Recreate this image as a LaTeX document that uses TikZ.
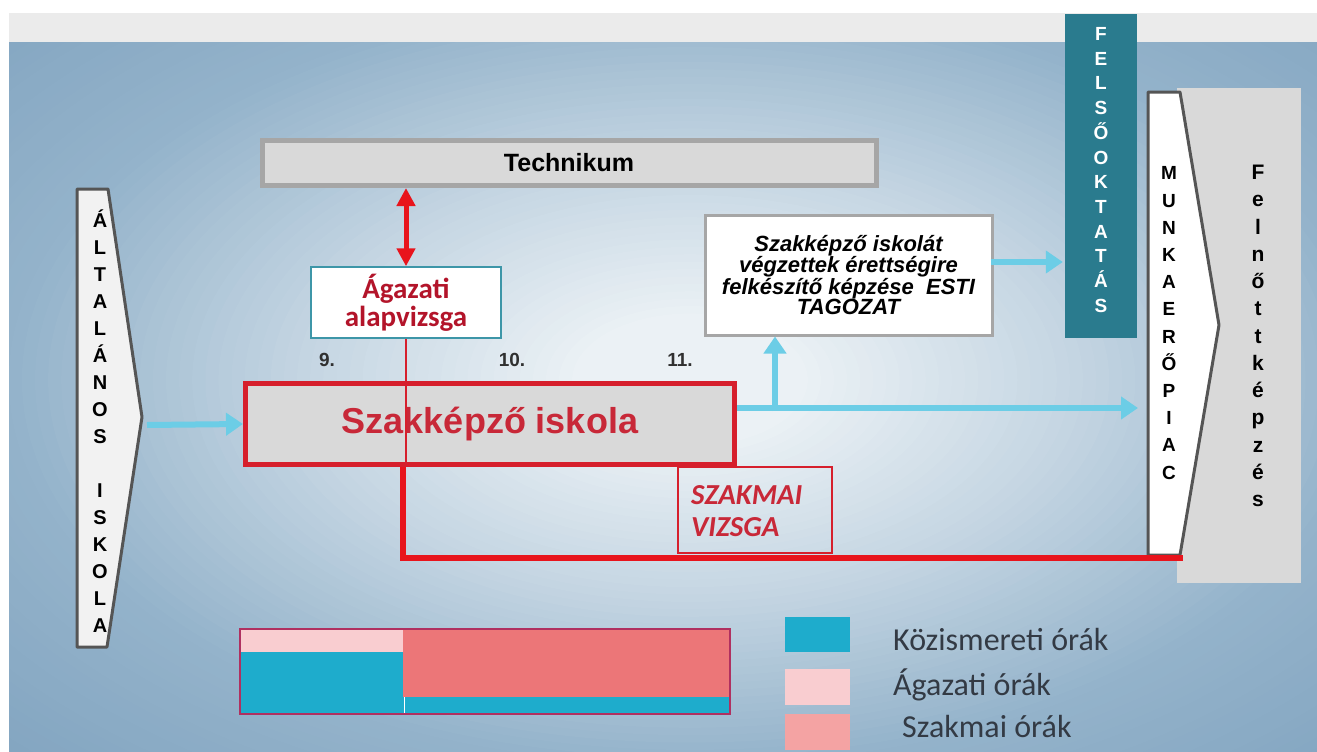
\documentclass[tikz,border=0pt]{standalone}
\usepackage{fontspec}
\newfontfamily\arial{Liberation Sans}
\newfontfamily\calibri{Carlito}
\usetikzlibrary{arrows.meta}
\definecolor{stripgray}{HTML}{EBEBEB}
\definecolor{bgC}{HTML}{EBF1F5}
\definecolor{bgM}{HTML}{C4D5E2}
\definecolor{bgE}{HTML}{94B3CB}
\definecolor{bgO}{HTML}{84A6C1}
\definecolor{boxgray}{HTML}{D9D9D9}
\definecolor{bordergray}{HTML}{A6A6A6}
\definecolor{darkborder}{HTML}{555555}
\definecolor{lblue}{HTML}{6CCDE6}
\definecolor{szred}{HTML}{D61F2C}
\definecolor{txtred}{HTML}{C82838}
\definecolor{dred}{HTML}{B3142A}
\definecolor{linered}{HTML}{E8141C}
\definecolor{teal}{HTML}{2A7B8E}
\definecolor{agteal}{HTML}{3D96A8}
\definecolor{chblue}{HTML}{1EACCC}
\definecolor{chpale}{HTML}{F9CDD0}
\definecolor{chsalmon}{HTML}{EC7678}
\definecolor{lgpink}{HTML}{F4A3A3}
\definecolor{chborder}{HTML}{B03060}
\definecolor{lgtext}{HTML}{333A44}
\definecolor{numtext}{HTML}{303030}
\newcommand{\fsz}[2]{\fontsize{#1}{#2}\selectfont}
\begin{document}
\begin{tikzpicture}[x=1pt,y=-1pt,
  plainbox/.style={rectangle, inner sep=0pt, align=center},
  bluearrow/.style={draw=lblue, line width=6pt, -{Triangle[width=22pt,length=17pt]}},
  redthick/.style={draw=linered, line width=6pt, line join=miter},
  thinred/.style={draw=szred, line width=1.2pt},
  redboth/.style={draw=linered, line width=5pt, {Triangle[width=18pt,length=18pt]}-{Triangle[width=18pt,length=18pt]}},
  vletters/.style={inner sep=0pt, align=center},
  legtext/.style={anchor=west, inner sep=0pt, font=\calibri\fsz{32}{36}, text=lgtext},
  numlabel/.style={inner sep=0pt, font=\arial\bfseries\fsz{19}{22}, text=numtext}
]
\useasboundingbox (0,0) rectangle (1317,752);
\fill[white] (0,0) rectangle (1317,752);
\fill[stripgray] (9,13) rectangle (1317,43);
% elliptical background gradient
\begin{scope}
\clip (9,43) rectangle (1317,752);
\fill[bgO] (9,43) rectangle (1317,752);
\foreach \k in {74,...,1}{
  \ifnum\k>52
    \pgfmathsetmacro{\p}{min(100,(\k-52)*100/20)}
    \colorlet{cc}{bgO!\p!bgE}
  \else\ifnum\k>30
    \pgfmathsetmacro{\p}{(\k-30)*100/22}
    \colorlet{cc}{bgE!\p!bgM}
  \else\ifnum\k>9
    \pgfmathsetmacro{\p}{(\k-9)*100/21}
    \colorlet{cc}{bgM!\p!bgC}
  \else
    \colorlet{cc}{bgC}
  \fi\fi\fi
  \pgfmathsetmacro{\rx}{\k*13.1}
  \pgfmathsetmacro{\ry}{\k*7.4}
  \fill[cc] (690,380) ellipse [x radius=\rx, y radius=\ry];
}
\end{scope}

% right side: Felnottkepzes gray box
\node[plainbox, fill=boxgray, minimum width=124pt, minimum height=495pt] (felnott) at (1239,335.5) {};
\node[vletters, font=\arial\bfseries\fsz{21}{27.25}] (felnotttext) at (1258,336) {F\\e\\l\\n\\ő\\t\\t\\k\\é\\p\\z\\é\\s};

% Munkaeropiac arrow
\draw[fill=white, draw=darkborder, line width=3pt, line join=round] (1148,92) -- (1180,92) -- (1219,325) -- (1180,555) -- (1148,555) -- cycle;
\coordinate (munkaW) at (1148,408);
\node[vletters, font=\arial\bfseries\fsz{19}{27.2}] (munka) at (1169,323) {M\\U\\N\\K\\A\\E\\R\\Ő\\P\\I\\A\\C};

% Felsooktatas
\node[plainbox, fill=teal, minimum width=72pt, minimum height=324pt] (felso) at (1101,176) {};
\node[vletters, text=white, font=\arial\bfseries\fsz{19}{24.7}] (felsotext) at (1101,170) {F\\E\\L\\S\\Ő\\O\\K\\T\\A\\T\\Á\\S};

% Altalanos iskola arrow
\draw[fill=white!95!black, draw=darkborder, line width=3pt, line join=round] (77,189) -- (108,189) -- (142,417) -- (107,647) -- (77,647) -- cycle;
\coordinate (alttip) at (142,425);
\node[vletters, font=\arial\bfseries\fsz{20}{27}] (alt) at (100,421) {Á\\L\\T\\A\\L\\Á\\N\\O\\S\\[27pt]I\\S\\K\\O\\L\\A};

% Technikum
\node[plainbox, draw=bordergray, line width=5pt, fill=boxgray, minimum width=614pt, minimum height=45pt, font=\arial\bfseries\fsz{25}{28}] (tech) at (569,163) {Technikum};

% Agazati alapvizsga
\node[plainbox, draw=agteal, line width=1.5pt, fill=white, minimum width=190pt, minimum height=71pt, font=\calibri\bfseries\fsz{29}{28}, text=dred] (agaz) at (406,302.5) {Ágazati\\alapvizsga};

% ESTI box
\node[plainbox, draw=bordergray, line width=3pt, fill=white, minimum width=287pt, minimum height=120pt, font=\arial\bfseries\itshape\fsz{22}{20.5}] (esti) at (848.5,275) {Szakképző iskolát\\végzettek érettségire\\felkészítő képzése\ \ ESTI\\TAGOZAT};

% year numbers
\node[numlabel] (n9) at (327,360) {9.};
\node[numlabel] (n10) at (512,360) {10.};
\node[numlabel] (n11) at (680,360) {11.};

% Szakkepzo iskola
\node[plainbox, draw=szred, line width=5pt, fill=boxgray, minimum width=489pt, minimum height=81pt, font=\arial\bfseries\fsz{36}{40}, text=txtred] (szak) at (490,424) {Szakképző iskola};

% Szakmai vizsga
\node[plainbox, draw=szred, line width=1.2pt, minimum width=154pt, minimum height=86pt] (vizsga) at (755,510) {};
\node[anchor=west, inner sep=0pt, align=left, font=\calibri\bfseries\itshape\fsz{29}{32}, text=txtred] (vizsgatext) at (691,511) {SZAKMAI\\VIZSGA};

% connectors
\draw[thinred] (agaz.south) -- (agaz.south |- szak.south);
\coordinate (rc) at (403,558);
\coordinate (rend) at (1183,558);
\draw[redthick] (szak.south -| rc) -- (rc) -- (rend);
\draw[redboth] (tech.south -| agaz.north) -- (agaz.north);

\draw[bluearrow] ([xshift=5pt]alttip) -- (szak.west);
\coordinate (branch) at (775,408);
\draw[draw=lblue, line width=6pt] (szak.east |- branch) -- (branch);
\draw[bluearrow] (branch) -- ([xshift=-10pt]munkaW);
\draw[bluearrow] ([yshift=-3pt]branch) -- (esti.south -| branch);
\coordinate (fy) at (0,262);
\draw[bluearrow] ([xshift=-3pt]esti.east |- fy) -- ([xshift=-2pt]felso.west |- fy);

% bar chart
\fill[chpale] (240,629) rectangle (403,652);
\fill[chblue] (240,652) rectangle (403,714);
\fill[chsalmon] (403,629) rectangle (730,697);
\fill[chblue] (403,697) rectangle (730,714);
\draw[white, line width=1pt] (404.5,697) -- (404.5,714);
\node[plainbox, draw=chborder, line width=1.2pt, minimum width=490pt, minimum height=85pt] (chart) at (485,671.5) {};

% legend
\node[plainbox, fill=chblue, minimum width=65pt, minimum height=35pt] (lg1) at (817.5,634.5) {};
\node[plainbox, fill=chpale, minimum width=65pt, minimum height=36pt] (lg2) at (817.5,687) {};
\node[plainbox, fill=lgpink, minimum width=65pt, minimum height=36pt] (lg3) at (817.5,732) {};
\node[legtext] (lt1) at (893,640) {Közismereti órák};
\node[legtext] (lt2) at (893,685) {Ágazati órák};
\node[legtext] (lt3) at (902,726) {Szakmai órák};
\end{tikzpicture}
\end{document}
